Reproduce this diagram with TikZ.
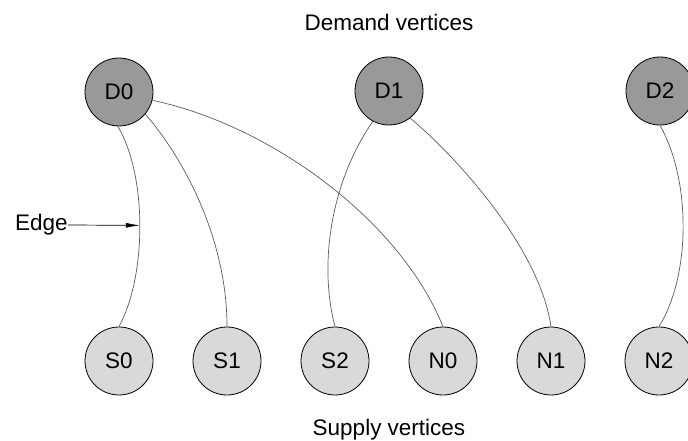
\documentclass[tikz,border=0pt]{standalone}
\usepackage{fontspec}
\setmainfont{Liberation Sans}
\usetikzlibrary{arrows.meta}
\begin{document}
\begin{tikzpicture}[x=1pt,y=-1pt,
  lbl/.style={font=\fontsize{22.5}{26}\selectfont},
  vtx/.style={circle,draw=black,line width=0.8pt,minimum size=68pt,inner sep=0pt,font=\fontsize{22.5}{26}\selectfont},
  dem/.style={vtx,fill={rgb,255:red,153;green,153;blue,153}},
  sup/.style={vtx,fill={rgb,255:red,217;green,217;blue,217}},
  edg/.style={draw={rgb,255:red,90;green,90;blue,90},line width=0.7pt}]
\useasboundingbox (0,0) rectangle (688,441);
\node[lbl] (dtitle) at (389,22) {Demand vertices};
\node[lbl] (stitle) at (389,430) {Supply vertices};
\node[dem] (D0) at (119,92) {D0};
\node[dem] (D1) at (389,91) {D1};
\node[dem] (D2) at (660,91) {D2};
\node[sup] (S0) at (119,361) {S0};
\node[sup] (S1) at (227,361) {S1};
\node[sup] (S2) at (335,361) {S2};
\node[sup] (N0) at (443,361) {N0};
\node[sup] (N1) at (551,361) {N1};
\node[sup] (N2) at (659,361) {N2};
\path[edg] (D0.-92) .. controls (147,175) and (147,275) .. coordinate[pos=0.5] (ept) (S0.north);
\path[edg] (D0.-40) .. controls (185,160) and (227,240) .. (S1.north);
\path[edg] (D0.-14) .. controls (270,125) and (400,220) .. (N0.north);
\path[edg] (D1.-118) .. controls (332,180) and (318,262) .. (S2.north);
\path[edg] (D1.-52) .. controls (460,160) and (540,250) .. (N1.north);
\path[edg] (D2.-90) .. controls (691,180) and (691,275) .. (N2.north);
\node[lbl,anchor=west,inner sep=0pt] (edge) at (15,225) {Edge};
\draw[line width=0.7pt,-{Latex[length=14pt,width=5pt]}] (edge.east) -- (ept);
\end{tikzpicture}
\end{document}
